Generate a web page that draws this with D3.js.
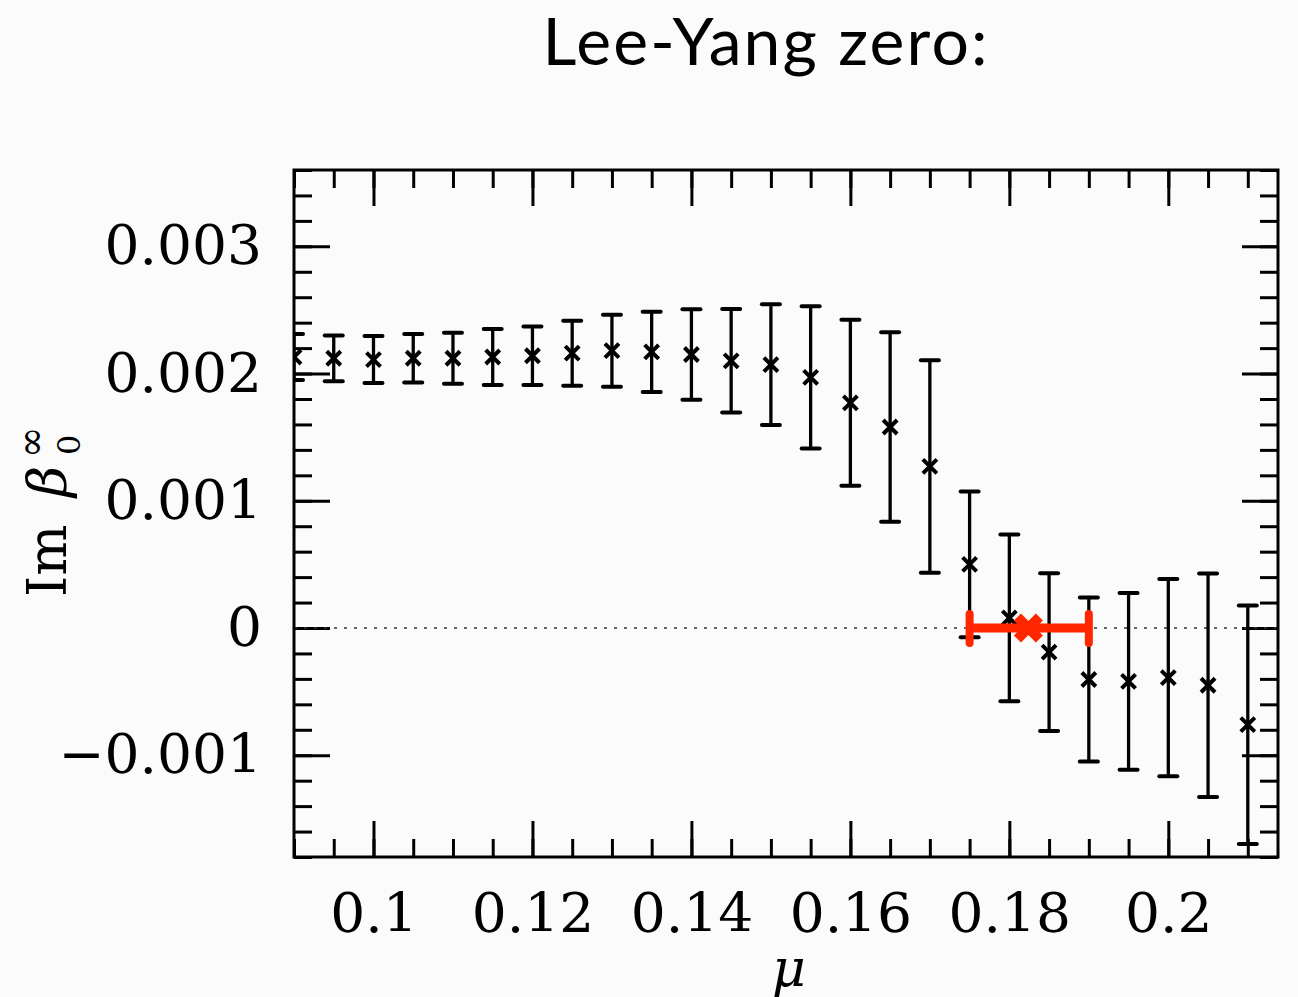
<!DOCTYPE html>
<html>
<head>
<meta charset="utf-8">
<script src="https://cdn.jsdelivr.net/npm/d3@7"></script>
<style>
  body { margin: 0; background: #fbfbfb; }
  svg { display: block; }
</style>
</head>
<body>
<div id="chart"></div>
<script>
// Lee-Yang zero: Im beta_0^inf as a function of mu
const mu = [0.09, 0.095, 0.1, 0.105, 0.11, 0.115, 0.12, 0.125, 0.13, 0.135, 0.14, 0.145,
            0.15, 0.155, 0.16, 0.165, 0.17, 0.175, 0.18, 0.185, 0.19, 0.195, 0.2, 0.205, 0.21];
const imBeta = [0.00213, 0.00212, 0.00211, 0.00212, 0.00212, 0.00213, 0.00214, 0.00216, 0.00218,
                0.00217, 0.00215, 0.00210, 0.00207, 0.00197, 0.00177, 0.00158, 0.00127, 0.00050,
                0.00008, -0.00019, -0.000405, -0.00042, -0.00039, -0.00045, -0.00076];
const imErr = [0.00018, 0.00018, 0.000185, 0.00019, 0.0002, 0.00022, 0.00023, 0.000255, 0.000283,
               0.000315, 0.000355, 0.000407, 0.000474, 0.00056, 0.000652, 0.000745, 0.000835, 0.000573,
               0.000655, 0.00062, 0.000645, 0.000695, 0.000776, 0.000878, 0.000937];

// extrapolated zero (red)
const zeroMu = 0.1824;
const zeroMuLo = 0.175;
const zeroMuHi = 0.19;
const zeroIm = 0;

const xMajor = [0.1, 0.12, 0.14, 0.16, 0.18, 0.2];
const xLabels = ["0.1", "0.12", "0.14", "0.16", "0.18", "0.2"];
const yMajor = [-0.001, 0, 0.001, 0.002, 0.003];
const yLabels = ["\u22120.001", "0", "0.001", "0.002", "0.003"];

const W = 1298, H = 997;
const pl = 294, pr = 1278, pt = 170, pb = 857;

const x = d3.scaleLinear().domain([0.09, 0.2138]).range([pl, pr]);
const y = d3.scaleLinear().domain([-0.0018, 0.0036]).range([pb, pt]);

const xMinor = d3.range(0.09, 0.2139, 0.005);
const yMinor = d3.range(-0.0018, 0.00361, 0.0002);

const svg = d3.select("#chart").append("svg")
  .attr("width", W).attr("height", H);

svg.append("rect").attr("width", W).attr("height", H).attr("fill", "#fbfbfb");

svg.append("clipPath").attr("id", "plotclip")
  .append("rect")
  .attr("x", pl).attr("y", pt)
  .attr("width", pr - pl).attr("height", pb - pt);

const serif = "'DejaVu Serif', serif";

// axes (ticks inward on all four sides)
function styleAxis(g) {
  g.select(".domain").remove();
  g.selectAll(".tick line").attr("stroke", "#000").attr("stroke-width", 3);
  g.selectAll(".tick text").attr("fill", "#000")
    .style("font-family", serif).style("font-size", "55px");
}

svg.append("g").attr("transform", `translate(0,${pb})`)
  .call(d3.axisBottom(x).tickValues(xMinor).tickSize(-18).tickFormat(""))
  .call(styleAxis);
svg.append("g").attr("transform", `translate(0,${pb})`)
  .call(d3.axisBottom(x).tickValues(xMajor).tickSize(-36).tickPadding(36)
    .tickFormat((d, i) => xLabels[i]))
  .call(styleAxis);
svg.append("g").attr("transform", `translate(0,${pt})`)
  .call(d3.axisTop(x).tickValues(xMinor).tickSize(-18).tickFormat(""))
  .call(styleAxis);
svg.append("g").attr("transform", `translate(0,${pt})`)
  .call(d3.axisTop(x).tickValues(xMajor).tickSize(-36).tickFormat(""))
  .call(styleAxis);

svg.append("g").attr("transform", `translate(${pl},0)`)
  .call(d3.axisLeft(y).tickValues(yMinor).tickSize(-18).tickFormat(""))
  .call(styleAxis);
svg.append("g").attr("transform", `translate(${pl},0)`)
  .call(d3.axisLeft(y).tickValues(yMajor).tickSize(-36).tickPadding(32)
    .tickFormat((d, i) => yLabels[i]))
  .call(styleAxis);
svg.append("g").attr("transform", `translate(${pr},0)`)
  .call(d3.axisRight(y).tickValues(yMinor).tickSize(-18).tickFormat(""))
  .call(styleAxis);
svg.append("g").attr("transform", `translate(${pr},0)`)
  .call(d3.axisRight(y).tickValues(yMajor).tickSize(-36).tickFormat(""))
  .call(styleAxis);

// zero line
svg.append("line")
  .attr("x1", pl).attr("x2", pr)
  .attr("y1", y(0)).attr("y2", y(0))
  .attr("stroke", "#333").attr("stroke-width", 1.5)
  .attr("stroke-dasharray", "3,7");

// data
const data = mu.map((m, i) => ({ m, v: imBeta[i], e: imErr[i] }));
const plot = svg.append("g").attr("clip-path", "url(#plotclip)");

const pts = plot.selectAll("g.pt").data(data).enter().append("g").attr("class", "pt");
pts.append("line")
  .attr("x1", d => x(d.m)).attr("x2", d => x(d.m))
  .attr("y1", d => y(d.v + d.e)).attr("y2", d => y(d.v - d.e))
  .attr("stroke", "#000").attr("stroke-width", 3.3);
pts.selectAll("line.cap").data(d => [d.v + d.e, d.v - d.e].map(v => ({ m: d.m, v })))
  .enter().append("line").attr("class", "cap")
  .attr("x1", d => x(d.m) - 9).attr("x2", d => x(d.m) + 9)
  .attr("y1", d => y(d.v)).attr("y2", d => y(d.v))
  .attr("stroke", "#000").attr("stroke-width", 4).attr("stroke-linecap", "round");
pts.append("path")
  .attr("d", d => {
    const cx = x(d.m), cy = y(d.v), s = 7;
    return `M${cx - s},${cy - s}L${cx + s},${cy + s}M${cx - s},${cy + s}L${cx + s},${cy - s}`;
  })
  .attr("stroke", "#000").attr("stroke-width", 4);

// red Lee-Yang zero estimate
const red = "#ff2600";
const rg = svg.append("g");
rg.append("line")
  .attr("x1", x(zeroMuLo)).attr("x2", x(zeroMuHi))
  .attr("y1", y(zeroIm)).attr("y2", y(zeroIm))
  .attr("stroke", red).attr("stroke-width", 9);
rg.selectAll("line.rcap").data([zeroMuLo, zeroMuHi]).enter().append("line")
  .attr("x1", d => x(d)).attr("x2", d => x(d))
  .attr("y1", y(zeroIm) - 14).attr("y2", y(zeroIm) + 15)
  .attr("stroke", red).attr("stroke-width", 8).attr("stroke-linecap", "round");
rg.append("path")
  .attr("d", () => {
    const cx = x(zeroMu), cy = y(zeroIm), s = 11;
    return `M${cx - s},${cy - s}L${cx + s},${cy + s}M${cx - s},${cy + s}L${cx + s},${cy - s}`;
  })
  .attr("stroke", red).attr("stroke-width", 10);

// frame
svg.append("rect")
  .attr("x", pl).attr("y", pt)
  .attr("width", pr - pl).attr("height", pb - pt)
  .attr("fill", "none").attr("stroke", "#000").attr("stroke-width", 3);

// title
svg.append("text")
  .attr("x", 765).attr("y", 65)
  .attr("text-anchor", "middle")
  .attr("textLength", 445).attr("lengthAdjust", "spacing")
  .style("font-family", "Lato, 'Open Sans', sans-serif")
  .style("font-size", "66px")
  .attr("fill", "#000")
  .text("Lee-Yang zero:");

// x label
svg.append("text")
  .attr("x", 789).attr("y", 986)
  .attr("text-anchor", "middle")
  .style("font-family", serif).style("font-style", "italic").style("font-size", "52px")
  .text("\u03bc");

// y label: Im beta_0^inf
const yl = svg.append("g").attr("transform", "translate(66,597) rotate(-90)")
  .style("font-family", serif).attr("fill", "#000");
yl.append("text").attr("x", 0).attr("y", 0).style("font-size", "54px").text("Im");
yl.append("text").attr("x", 100).attr("y", 0).style("font-size", "54px")
  .style("font-style", "italic").text("\u03b2");
yl.append("text").attr("x", 142).attr("y", 14).style("font-size", "32px").text("0");
yl.append("text").attr("x", 139).attr("y", -22).style("font-size", "38px").text("\u221e");
</script>
</body>
</html>
